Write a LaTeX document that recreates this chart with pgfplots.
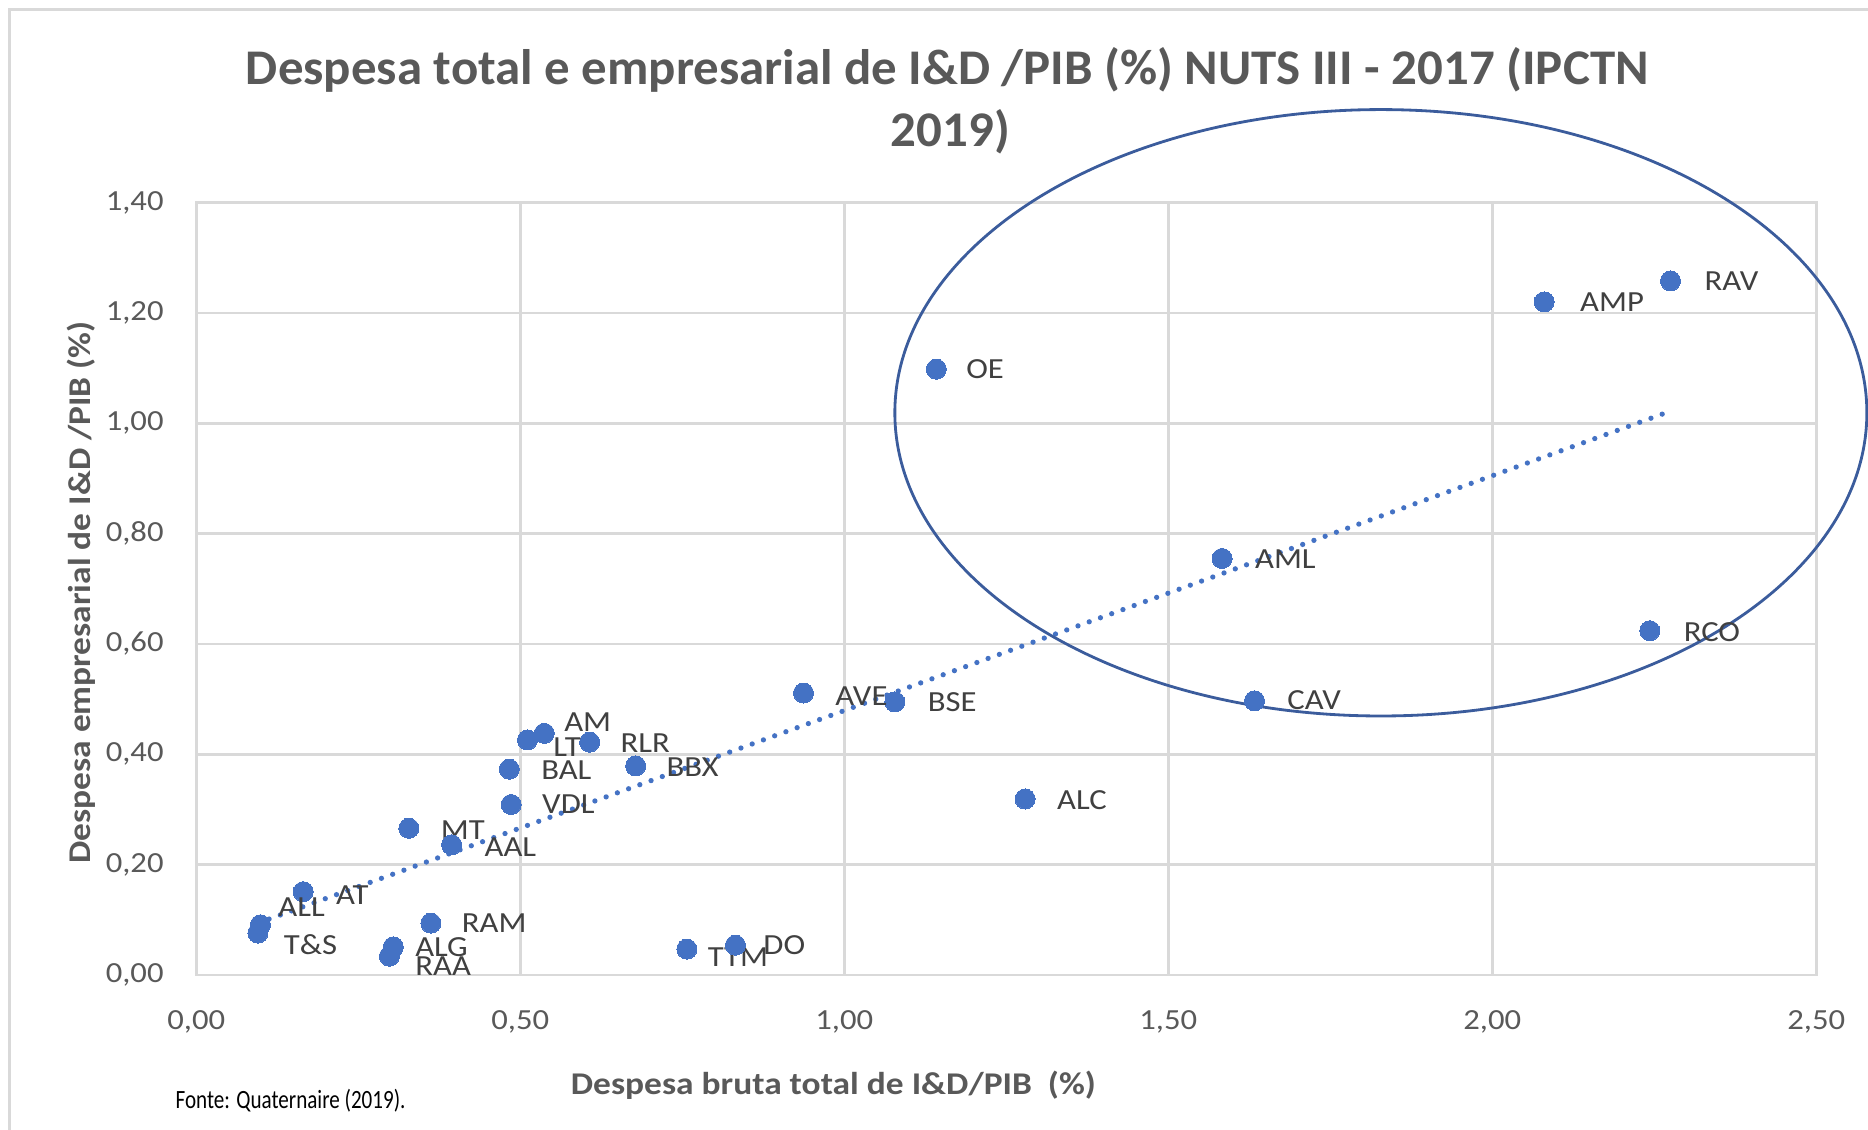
\documentclass[border=0pt]{standalone}
\usepackage{fontspec}
\setmainfont{Carlito}[FakeStretch=1.12]
\newfontfamily\titlefont{Carlito}[FakeStretch=1.02]
\newfontfamily\notefont{Carlito}[FakeStretch=0.80]
\usepackage{pgfplots}
\usepackage{pgfplotstable}
\pgfplotsset{compat=1.18}
\definecolor{mk}{HTML}{4472C4}
\definecolor{ell}{HTML}{3B5C9C}
\definecolor{gridgray}{HTML}{D9D9D9}
\definecolor{ticktxt}{HTML}{595959}
\definecolor{labtxt}{HTML}{404040}

\pgfplotstableread{
x y label dx dy
2.275 1.258 RAV 3.4 0.0
2.080 1.220 AMP 3.6 0.0
1.142 1.098 OE 3.0 0.0
1.583 0.755 AML 3.3 -0.1
2.243 0.624 RCO 3.4 -0.1
1.633 0.497 CAV 3.3 0.1
1.279 0.319 ALC 3.2 -0.1
1.078 0.495 BSE 3.3 0.0
0.937 0.511 AVE 3.2 -0.3
0.678 0.379 BBX 3.1 -0.1
0.607 0.422 RLR 3.1 -0.1
0.537 0.438 AM 2.0 1.1
0.511 0.426 LT 2.6 -0.7
0.483 0.373 BAL 3.2 -0.1
0.486 0.309 VDL 3.1 0.0
0.328 0.266 MT 3.2 -0.2
0.394 0.236 AAL 3.3 -0.2
0.165 0.151 AT 3.3 -0.3
0.099 0.091 ALL 1.8 1.8
0.095 0.076 {T\&S} 2.6 -1.2
0.362 0.094 RAM 3.1 0.0
0.304 0.051 ALG 2.2 0.0
0.298 0.034 RAA 2.6 -1.0
0.757 0.047 TTM 2.1 -0.8
0.832 0.054 DO 2.8 0.0
}\regdata

\begin{document}
\begin{tikzpicture}
\useasboundingbox (-19.63mm,-15.5mm) rectangle (167.17mm,97.5mm);
\begin{axis}[
  scale only axis,
  width=162mm, height=77.24mm,
  xmin=0, xmax=2.5, ymin=0, ymax=1.4,
  xtick={0,0.5,1,1.5,2,2.5},
  ytick={0,0.2,0.4,0.6,0.8,1.0,1.2,1.4},
  grid=major,
  grid style={gridgray, line width=0.75pt},
  axis line style={gridgray, line width=0.75pt},
  major tick length=0pt,
  clip=false,
  /pgf/number format/.cd, fixed, fixed zerofill, precision=2, use comma, assume math mode=true,
  /pgfplots/.cd,
  ticklabel style={font=\fontsize{8.3}{10}\selectfont, text=ticktxt, inner sep=0pt},
  xticklabel style={anchor=north, yshift=-3.5mm},
  yticklabel style={anchor=east, xshift=-3.2mm},
]
\addplot[mk, line width=1.5pt, line cap=round, dash pattern=on 0pt off 3.4pt] coordinates {(0.095,0.094) (2.275,1.022)};
\draw[ell, line width=0.8pt] (axis cs:1.828,1.019) ellipse [x radius=48.6mm, y radius=30.32mm];
\addplot[only marks, mark=*, mark size=2.85pt, mark options={fill=mk, draw=mk, line width=0pt},
  point meta=explicit symbolic,
  visualization depends on={\thisrow{dx} \as \labeldx},
  visualization depends on={\thisrow{dy} \as \labeldy},
  nodes near coords,
  every node near coord/.append style={anchor=west, inner sep=0pt, xshift=\labeldx mm, yshift=\labeldy mm, font=\fontsize{8.3}{10}\selectfont, text=labtxt},
] table[x=x, y=y, meta=label] {\regdata};
\end{axis}
\draw[gridgray, line width=0.7pt] (-18.68mm,-15.5mm) -- (-18.68mm,96.55mm) -- (167.17mm,96.55mm);
\node[anchor=base, inner sep=0pt, text=ticktxt, font=\titlefont\bfseries\fontsize{14.2}{17}\selectfont] at (75.1mm,89.0mm) {Despesa total e empresarial de I\&D /PIB (\%) NUTS III - 2017 (IPCTN};
\node[anchor=base, inner sep=0pt, text=ticktxt, font=\titlefont\bfseries\fontsize{14.2}{17}\selectfont] at (75.4mm,82.8mm) {2019)};
\node[anchor=base, inner sep=0pt, text=ticktxt, font=\bfseries\fontsize{9}{11}\selectfont] at (63.7mm,-12.0mm) {Despesa bruta total de I\&D/PIB\ \ (\%)};
\node[anchor=base, rotate=90, inner sep=0pt, text=ticktxt, font=\bfseries\fontsize{9}{11}\selectfont] at (-10.6mm,38.25mm) {Despesa empresarial de I\&D /PIB (\%)};
\node[anchor=base west, inner sep=0pt, text=black, font=\notefont\fontsize{7.5}{9}\selectfont] at (-2.13mm,-13.33mm) {Fonte: Quaternaire (2019).};
\end{tikzpicture}
\end{document}
